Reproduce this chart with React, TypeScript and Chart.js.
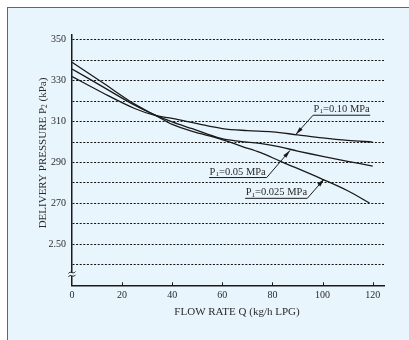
import React, { useEffect, useRef } from "react";
import { Chart, registerables } from "chart.js";

Chart.register(...registerables);

const FONT = '"Liberation Serif", "DejaVu Serif", serif';

// Series: flow rate Q (kg/h LPG) and delivery pressure P2 (kPa)
const q010 = [0, 12, 25, 33.5, 40, 50, 60, 70, 80, 90, 100, 110, 120];
const p010 = [332, 324.2, 316.4, 312.9, 311.6, 309, 306.6, 305.6, 305, 303.5, 302, 300.8, 300];

const q005 = [0, 12, 25, 33.5, 40, 48, 59, 67, 75, 83, 90, 100, 110, 120];
const p005 = [335.7, 327.2, 318, 313, 309.8, 306.5, 301.9, 300.3, 299.3, 297.6, 295.6, 293, 290.6, 288.2];

const q0025 = [0, 12, 25, 33.5, 40, 48, 59, 68, 75, 83, 100, 110, 118.7];
const p0025 = [339, 329.2, 318.5, 312.9, 308.6, 305.2, 301.6, 297.8, 294.9, 290.7, 281.8, 276.2, 270.2];

// Axis ticks
const xTicks = [0, 20, 40, 60, 80, 100, 120];
const yGrid = [240, 250, 260, 270, 280, 290, 300, 310, 320, 330, 340, 350];
const yLabelValues = [250, 270, 290, 310, 330, 350];
const yLabelTexts = ["2.50", "270", "290", "310", "330", "350"];

// Curve labels (P1 values) with leader lines in data coordinates
const labelSub = ["1", "1", "1"];
const labelRest = ["=0.10 MPa", "=0.05 MPa", "=0.025 MPa"];
const labelLineY = [313.1, 282.65, 272.5];
const labelLineX0 = [96.2, 54.7, 69.1];
const labelLineX1 = [119, 77.7, 93.9];
const labelLeaderFromRight = [false, true, true];
const labelTipQ = [89.3, 87, 100.6];
const labelTipP = [303.7, 295.9, 281.9];

const INK = "#1a1a1a";
const TEXT = "#2a2a2a";
const BG = "#e9f5fd";

function drawSubText(ctx: CanvasRenderingContext2D, x: number, y: number, base: string, sub: string, rest: string, size: number) {
  ctx.font = `${size}px ${FONT}`;
  ctx.fillText(base, x, y);
  let w = ctx.measureText(base).width;
  ctx.font = `${size * 0.68}px ${FONT}`;
  ctx.fillText(sub, x + w, y + size * 0.12);
  w += ctx.measureText(sub).width;
  ctx.font = `${size}px ${FONT}`;
  ctx.fillText(rest, x + w, y);
}

function subTextWidth(ctx: CanvasRenderingContext2D, base: string, sub: string, rest: string, size: number) {
  ctx.font = `${size}px ${FONT}`;
  let w = ctx.measureText(base).width + ctx.measureText(rest).width;
  ctx.font = `${size * 0.68}px ${FONT}`;
  w += ctx.measureText(sub).width;
  return w;
}

const decor = {
  id: "decor",
  afterDatasetsDraw(chart: any) {
    const ctx: CanvasRenderingContext2D = chart.ctx;
    const xs = chart.scales.x;
    const ys = chart.scales.y;
    ctx.save();
    ctx.lineWidth = 1;
    for (let i = 0; i < labelRest.length; i++) {
      const ly = ys.getPixelForValue(labelLineY[i]);
      const x0 = xs.getPixelForValue(labelLineX0[i]);
      const x1 = xs.getPixelForValue(labelLineX1[i]);
      const tx = xs.getPixelForValue(labelTipQ[i]);
      const ty = ys.getPixelForValue(labelTipP[i]);
      const sx = labelLeaderFromRight[i] ? x1 : x0;
      ctx.strokeStyle = INK;
      ctx.beginPath();
      ctx.moveTo(x0, ly);
      ctx.lineTo(x1, ly);
      ctx.moveTo(sx, ly);
      ctx.lineTo(tx, ty);
      ctx.stroke();
      const a = Math.atan2(ty - ly, tx - sx);
      const L = 8, W = 2;
      ctx.fillStyle = INK;
      ctx.beginPath();
      ctx.moveTo(tx, ty);
      ctx.lineTo(tx - L * Math.cos(a) - W * Math.sin(a), ty - L * Math.sin(a) + W * Math.cos(a));
      ctx.lineTo(tx - L * Math.cos(a) + W * Math.sin(a), ty - L * Math.sin(a) - W * Math.cos(a));
      ctx.closePath();
      ctx.fill();
      ctx.fillStyle = TEXT;
      ctx.textBaseline = "alphabetic";
      ctx.textAlign = "left";
      drawSubText(ctx, x0 + 0.5, ly - 3, "P", labelSub[i], labelRest[i], 10.5);
    }
    ctx.restore();
  },
  afterDraw(chart: any) {
    const ctx: CanvasRenderingContext2D = chart.ctx;
    const xs = chart.scales.x;
    const ys = chart.scales.y;
    const area = chart.chartArea;
    ctx.save();
    ctx.strokeStyle = INK;
    ctx.lineWidth = 1;
    ctx.beginPath();
    for (const v of xTicks) {
      if (v === 0) continue;
      const px = Math.round(xs.getPixelForValue(v)) + 0.5;
      ctx.moveTo(px, area.bottom);
      ctx.lineTo(px, area.bottom - 3);
    }
    ctx.stroke();
    // axis break
    const bx = area.left;
    const by = ys.getPixelForValue(235.5);
    ctx.fillStyle = BG;
    ctx.fillRect(bx - 2, by - 1.2, 4, 3);
    ctx.strokeStyle = INK;
    ctx.lineWidth = 1;
    for (const off of [-1.5, 1.8]) {
      const y = by + off;
      ctx.beginPath();
      ctx.moveTo(bx - 3.5, y + 1);
      ctx.bezierCurveTo(bx - 1.5, y - 2.5, bx + 1, y + 2.5, bx + 3.5, y - 1);
      ctx.stroke();
    }
    // axis titles
    ctx.fillStyle = TEXT;
    ctx.textBaseline = "middle";
    ctx.textAlign = "center";
    ctx.font = `11px ${FONT}`;
    ctx.fillText("FLOW RATE Q (kg/h LPG)", 237, 312);
    ctx.translate(42, 153);
    ctx.rotate(-Math.PI / 2);
    const size = 11;
    const w = subTextWidth(ctx, "DELIVERY PRESSURE P", "2", " (kPa)", size);
    ctx.textAlign = "left";
    ctx.textBaseline = "alphabetic";
    drawSubText(ctx, -w / 2, 3.8, "DELIVERY PRESSURE P", "2", " (kPa)", size);
    ctx.restore();
  },
};

export default function App() {
  const ref = useRef<HTMLCanvasElement>(null);
  useEffect(() => {
    const mk = (qs: number[], ps: number[]) => qs.map((q, i) => ({ x: q, y: ps[i] }));
    const ds = (data: any[]) => ({
      data,
      borderColor: INK,
      borderWidth: 1.3,
      pointRadius: 0,
      fill: false,
      tension: 0.35,
    });
    const chart = new Chart(ref.current as HTMLCanvasElement, {
      type: "line",
      data: {
        datasets: [ds(mk(q010, p010)), ds(mk(q005, p005)), ds(mk(q0025, p0025))],
      },
      options: {
        animation: false,
        responsive: false,
        devicePixelRatio: 1,
        layout: { padding: { left: 0, top: 35, right: 25, bottom: 0 } },
        plugins: { legend: { display: false }, tooltip: { enabled: false } },
        scales: {
          x: {
            type: "linear",
            min: 0,
            max: 124.5,
            afterBuildTicks: (s: any) => {
              s.ticks = xTicks.map((v) => ({ value: v }));
            },
            afterFit: (s: any) => {
              s.height = 54.7;
            },
            grid: { display: true, drawOnChartArea: false, drawTicks: false },
            border: { display: true, color: INK, width: 1.5 },
            ticks: {
              padding: 4,
              autoSkip: false,
              maxRotation: 0,
              color: TEXT,
              font: { family: FONT, size: 10 },
              callback: (v: any) => String(v),
            },
          },
          y: {
            type: "linear",
            min: 230,
            max: 352.3,
            afterBuildTicks: (s: any) => {
              s.ticks = yGrid.map((v) => ({ value: v }));
            },
            afterFit: (s: any) => {
              s.width = 72;
            },
            grid: { color: "#111", lineWidth: 1, drawTicks: false },
            border: { display: true, color: INK, width: 1.5, dash: [2, 1.6] },
            ticks: {
              padding: 6,
              autoSkip: false,
              color: TEXT,
              font: { family: FONT, size: 10 },
              callback: (v: any) => {
                const i = yLabelValues.indexOf(Number(v));
                return i >= 0 ? yLabelTexts[i] : "";
              },
            },
          },
        },
      },
      plugins: [decor],
    });
    return () => chart.destroy();
  }, []);
  return (
    <div style={{ position: "fixed", left: 0, top: 0, width: 409, height: 340, overflow: "hidden" }}>
      <div
        style={{
          position: "absolute",
          left: 7,
          top: 7,
          right: 0,
          bottom: 0,
          background: BG,
          borderLeft: "1px solid #666",
          borderTop: "1px solid #666",
        }}
      />
      <canvas
        ref={ref}
        width={409}
        height={340}
        style={{ position: "absolute", left: 0, top: 0, width: 409, height: 340 }}
      />
    </div>
  );
}
